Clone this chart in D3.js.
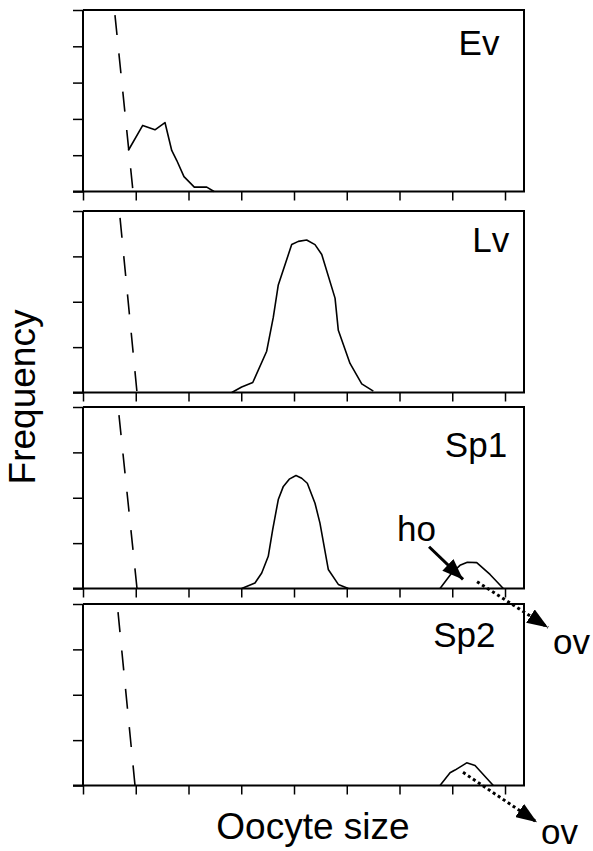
<!DOCTYPE html>
<html lang="en">
<head>
<meta charset="UTF-8"/>
<title>Oocyte size frequency</title>
<script src="https://d3js.org/d3.v7.min.js"></script>
<style>
  body { margin: 0; background: #fff; }
  text { font-family: 'Liberation Sans', Arial, sans-serif; fill: #000; }
  .label { font-size: 35px; }
  .axis-title { font-size: 37px; }
  .frame { fill: none; stroke: #000; stroke-width: 2px; }
  .tick line { stroke: #000; stroke-width: 1.5px; }
  .curve { fill: none; stroke: #000; stroke-width: 1.6px; stroke-linejoin: round; }
  .dashed { fill: none; stroke: #000; stroke-width: 1.6px; stroke-dasharray: 20, 18.5; }
  .dotted { fill: none; stroke: #000; stroke-width: 3px; stroke-dasharray: 3, 3; }
  .solid-arrow { fill: none; stroke: #000; stroke-width: 3px; }
</style>
</head>
<body>
<script>
// stages (panels), top to bottom
const stages = ["Ev", "Lv", "Sp1", "Sp2"]
const yTickMax = [5, 4, 4, 4]
const xTicks = [0, 50, 100, 150, 200, 250, 300, 350, 400]
const xMax = 418

// dashed line (small oocyte stock), [size, frequency]
const dashedEv  = [[30.3, 4.86], [47.4, 0]]
const dashedLv  = [[35.1, 3.85], [51.2, 0]]
const dashedSp1 = [[34.1, 3.82], [51.2, 0]]
const dashedSp2 = [[33.2, 3.82], [49.3, 0]]

// solid frequency curves, [size, frequency]
const curveEv = [[42.9, 1.13], [56.6, 1.82], [68.2, 1.70], [77.7, 1.90], [84.1, 1.13],
  [88.8, 0.86], [95.7, 0.41], [105.5, 0.12], [117.3, 0.12], [124.2, 0]]
const curveLv = [[141.0, 0], [150.4, 0.12], [160.9, 0.22], [174.1, 0.91], [180.4, 1.66],
  [185.1, 2.37], [197.8, 3.26], [204.1, 3.33], [212.0, 3.36], [219.9, 3.26], [226.3, 3.04],
  [238.9, 2.08], [242.0, 1.37], [253.1, 0.64], [264.2, 0.19], [275.2, 0.03]]
const curveSp1 = [[150.4, 0], [163.0, 0.12], [169.4, 0.34], [175.6, 0.71], [179.8, 1.30],
  [185.1, 1.96], [189.9, 2.25], [195.5, 2.41], [201.9, 2.49], [207.3, 2.43], [212.6, 2.32],
  [219.9, 1.88], [224.6, 1.44], [232.5, 0.42], [242.0, 0.09], [251.5, 0]]
const curveSp1Ho = [[338.4, 0], [349.5, 0.34], [357.3, 0.51], [364.3, 0.58], [373.2, 0.57],
  [385.8, 0.31], [398.4, 0]]
const curveSp2 = [[338.4, 0], [347.9, 0.28], [352.6, 0.34], [363.7, 0.50], [371.6, 0.44],
  [388.9, 0]]

const dashedSets = [dashedEv, dashedLv, dashedSp1, dashedSp2]
const curveSets = [[curveEv], [curveLv], [curveSp1, curveSp1Ho], [curveSp2]]

const outerWidth = 593, outerHeight = 851
const left = 83, right = 524
const panelTops = [10, 211, 407, 604]
const panelHeight = 181.5

const svg = d3.select("body").append("svg")
    .attr("width", outerWidth)
    .attr("height", outerHeight)

const defs = svg.append("defs")
defs.append("marker")
    .attr("id", "head")
    .attr("viewBox", "0 0 21 16")
    .attr("refX", 21).attr("refY", 8)
    .attr("markerWidth", 21).attr("markerHeight", 16)
    .attr("markerUnits", "userSpaceOnUse")
    .attr("orient", "auto")
  .append("path")
    .attr("d", "M0,0L21,8L0,16Z")
    .attr("fill", "#000")

const x = d3.scaleLinear().domain([0, xMax]).range([left, right])
const line = (y) => d3.line().x(d => x(d[0])).y(d => y(d[1]))

const yScales = []

stages.forEach((stage, i) => {
    const top = panelTops[i]
    const y = d3.scaleLinear().domain([0, yTickMax[i]]).range([top + panelHeight, top])
    yScales.push(y)
    const g = svg.append("g")

    // left ticks (top tick doubles as the top border)
    g.append("g")
        .attr("transform", `translate(${left},0)`)
        .call(d3.axisLeft(y).tickValues(d3.range(0, yTickMax[i] + 1)).tickSize(10).tickFormat(""))
        .call(a => a.select(".domain").remove())

    // bottom ticks
    g.append("g")
        .attr("transform", `translate(0,${y(0)})`)
        .call(d3.axisBottom(x).tickValues(xTicks).tickSize(9).tickFormat(""))
        .call(a => a.select(".domain").remove())

    // frame
    g.append("path")
        .attr("class", "frame")
        .attr("d", `M${left},${y(yTickMax[i])}H${right}V${y(0)}H${left - 10}M${left},${y(0)}V${y(yTickMax[i])}`)

    g.append("path")
        .attr("class", "dashed")
        .attr("d", line(y)(dashedSets[i]))

    curveSets[i].forEach(c => {
        g.append("path")
            .attr("class", "curve")
            .attr("d", line(y)(c))
    })
})

// stage labels: [size, frequency] anchor of text start
const labelPos = [[356, 3.75], [369, 3.1], [343, 2.9], [332, 3.05]]
stages.forEach((stage, i) => {
    svg.append("text")
        .attr("class", "label")
        .attr("x", x(labelPos[i][0]))
        .attr("y", yScales[i](labelPos[i][1]))
        .text(stage)
})

// annotations
const ySp1 = yScales[2], ySp2 = yScales[3]
svg.append("line")
    .attr("class", "solid-arrow")
    .attr("x1", x(328)).attr("y1", ySp1(0.92))
    .attr("x2", x(360.2)).attr("y2", ySp1(0.2))
    .attr("marker-end", "url(#head)")
svg.append("text").attr("class", "label")
    .attr("x", x(297.6)).attr("y", ySp1(1.05)).text("ho")

svg.append("line")
    .attr("class", "dotted")
    .attr("x1", x(373.5)).attr("y1", ySp1(0.15))
    .attr("x2", x(440.8)).attr("y2", ySp1(-0.86))
    .attr("marker-end", "url(#head)")
svg.append("text").attr("class", "label")
    .attr("x", x(445.5)).attr("y", ySp1(-1.45)).text("ov")

svg.append("line")
    .attr("class", "dotted")
    .attr("x1", x(360.2)).attr("y1", ySp2(0.29))
    .attr("x2", x(430.3)).attr("y2", ySp2(-0.81))
    .attr("marker-end", "url(#head)")
svg.append("text").attr("class", "label")
    .attr("x", x(434.1)).attr("y", ySp2(-1.30)).text("ov")

// axis titles
svg.append("text")
    .attr("class", "axis-title")
    .attr("text-anchor", "middle")
    .attr("transform", "translate(35,397) rotate(-90)")
    .text("Frequency")

svg.append("text")
    .attr("class", "axis-title")
    .attr("text-anchor", "middle")
    .attr("x", 313)
    .attr("y", 839)
    .text("Oocyte size")
</script>
</body>
</html>
